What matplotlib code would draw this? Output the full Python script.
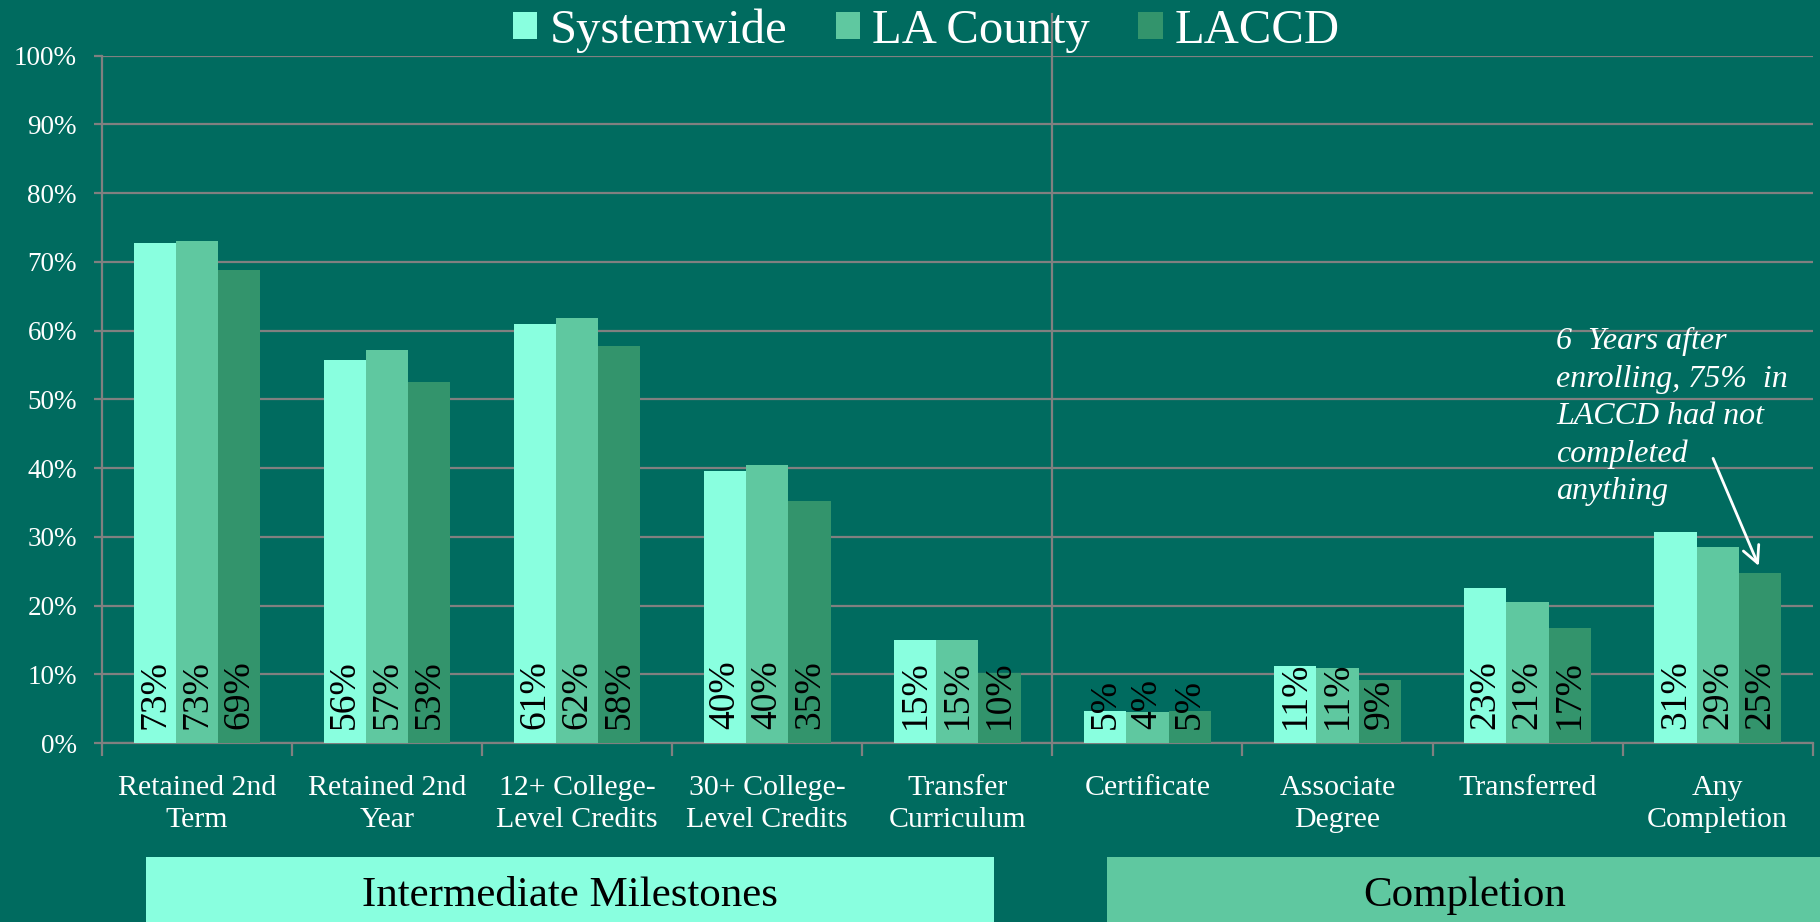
import matplotlib
matplotlib.use("Agg")
import matplotlib.pyplot as plt
from matplotlib.patches import Rectangle
import numpy as np

categories = ["Retained 2nd\nTerm", "Retained 2nd\nYear", "12+ College-\nLevel Credits",
              "30+ College-\nLevel Credits", "Transfer\nCurriculum", "Certificate",
              "Associate\nDegree", "Transferred", "Any\nCompletion"]
series_names = ["Systemwide", "LA County", "LACCD"]
systemwide = [72.7, 55.7, 61.0, 39.6, 15.0, 4.7, 11.2, 22.6, 30.7]
la_county = [73.1, 57.2, 61.9, 40.4, 15.0, 4.5, 10.9, 20.5, 28.6]
laccd = [68.8, 52.6, 57.7, 35.2, 10.2, 4.7, 9.2, 16.8, 24.7]
value_labels = [
    ["73%", "56%", "61%", "40%", "15%", "5%", "11%", "23%", "31%"],
    ["73%", "57%", "62%", "40%", "15%", "4%", "11%", "21%", "29%"],
    ["69%", "53%", "58%", "35%", "10%", "5%", "9%", "17%", "25%"],
]
group_names = ["Intermediate Milestones", "Completion"]
annotation_text = "6  Years after\nenrolling, 75%  in\nLACCD had not\ncompleted\nanything"

BG = "#006B5F"
COLORS = ["#89FFDF", "#5FC8A0", "#33946C"]
GRID = "#808080"
SERIF = ["Liberation Serif", "DejaVu Serif"]

plt.rcParams["font.family"] = SERIF

fig = plt.figure(figsize=(18.2, 9.22), dpi=100, facecolor=BG)
ax = fig.add_axes([0.056, 0.194, 0.940, 0.7456])
ax.set_facecolor(BG)

n = len(categories)
x = np.arange(n)
w = 0.222
all_series = [systemwide, la_county, laccd]
for i, (vals, col, name) in enumerate(zip(all_series, COLORS, series_names)):
    pos = x + (i - 1) * w
    ax.bar(pos, vals, width=w, color=col, label=name, zorder=3)
    for p, lab in zip(pos, value_labels[i]):
        ax.annotate(lab, xy=(p, 0), xytext=(0, 10), textcoords="offset points",
                    rotation=90, ha="center", va="bottom", fontsize=27,
                    color="black", zorder=4)

ax.set_xlim(-0.5, n - 0.5)
ax.set_ylim(0, 100)
ax.set_yticks(np.arange(0, 101, 10))
ax.set_yticklabels([f"{v}%" for v in range(0, 101, 10)])
ax.yaxis.grid(True, color=GRID, linewidth=1.6, zorder=0)
ax.set_axisbelow(True)

ax.set_xticks(x)
ax.set_xticklabels(categories, fontsize=21.5, color="white", linespacing=1.32)
ax.set_xticks(np.arange(-0.5, n, 1.0), minor=True)
ax.tick_params(axis="x", which="major", length=0, pad=23)
ax.tick_params(axis="x", which="minor", length=9, width=1.6, color=GRID, direction="out")
ax.tick_params(axis="y", length=6, width=1.6, color=GRID, labelsize=19.5,
               labelcolor="white", pad=12)

for s in ["top", "right"]:
    ax.spines[s].set_visible(False)
for s in ["left", "bottom"]:
    ax.spines[s].set_color(GRID)
    ax.spines[s].set_linewidth(1.6)

# divider between groups
ax.plot([4.5, 4.5], [0, 106], color=GRID, linewidth=1.6, clip_on=False, zorder=2)

# annotation
ax.text(7.15, 60.5, annotation_text, ha="left", va="top", fontsize=23,
        style="italic", color="white", linespacing=1.38, zorder=5)
ax.annotate("", xy=(8 + w, 25.4), xytext=(7.97, 41.8),
            arrowprops=dict(arrowstyle="->", color="white", lw=2, mutation_scale=30),
            zorder=5)

# legend
leg = fig.legend(loc="center", bbox_to_anchor=(0.509, 0.967), ncol=3, frameon=False,
                 fontsize=35, handlelength=0.5, handleheight=0.5, handletextpad=0.25,
                 columnspacing=1.0, borderaxespad=0)
for t in leg.get_texts():
    t.set_color("white")

# group boxes
fig.patches.append(Rectangle((0.0802, 0.0), 0.4660, 0.0705, transform=fig.transFigure,
                             facecolor=COLORS[0], edgecolor="none"))
fig.patches.append(Rectangle((0.608, 0.0), 0.392, 0.0705, transform=fig.transFigure,
                             facecolor=COLORS[1], edgecolor="none"))
fig.text(0.313, 0.028, group_names[0], ha="center", va="center", fontsize=31, color="black")
fig.text(0.805, 0.028, group_names[1], ha="center", va="center", fontsize=31, color="black")

fig.savefig("out.png", dpi=100, facecolor=BG)
